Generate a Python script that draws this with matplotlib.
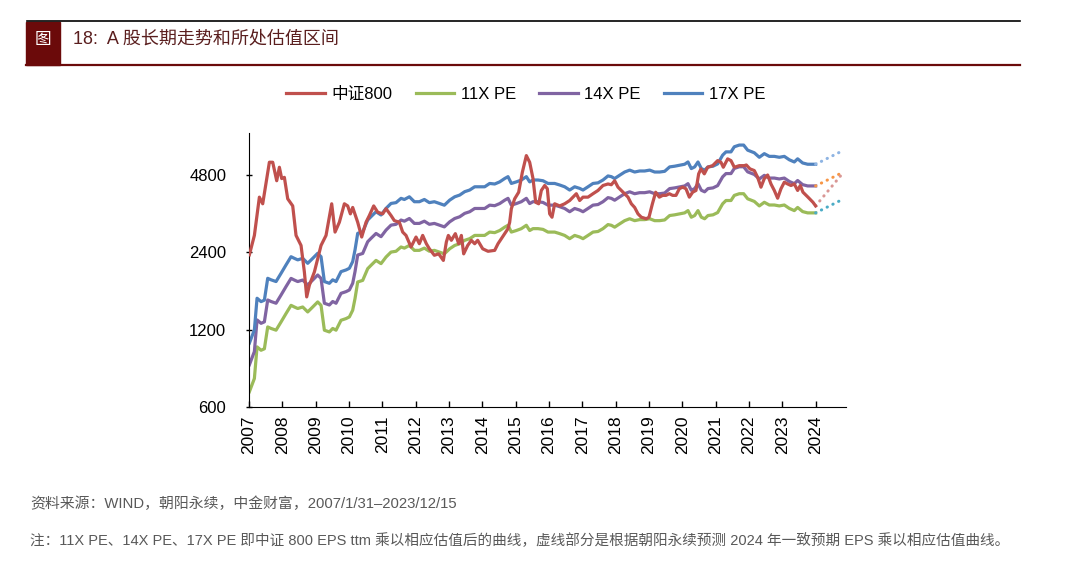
import numpy as np
import matplotlib
matplotlib.use('Agg')
import matplotlib.pyplot as plt
from matplotlib.patches import Rectangle
from matplotlib.lines import Line2D

plt.rcParams['font.family'] = ['Liberation Sans', 'Noto Sans CJK SC', 'DejaVu Sans']

# 中证800 (decimal year -> index level)
csi800_year = [2007.01, 2007.16, 2007.31, 2007.41, 2007.61, 2007.71, 2007.83, 2007.91, 2007.98,
               2008.06, 2008.16, 2008.31, 2008.41, 2008.56, 2008.66, 2008.73, 2008.81, 2008.96,
               2009.16, 2009.31, 2009.48, 2009.58, 2009.71, 2009.86, 2009.96,
               2010.04, 2010.11, 2010.26, 2010.38, 2010.51, 2010.61, 2010.74, 2010.86,
               2011.01, 2011.11, 2011.26, 2011.36, 2011.51, 2011.61, 2011.71, 2011.86,
               2012.01, 2012.11, 2012.21, 2012.32, 2012.41, 2012.56, 2012.69, 2012.83, 2012.92, 2012.98,
               2013.07, 2013.19, 2013.29, 2013.37, 2013.44, 2013.56, 2013.67, 2013.77, 2013.86,
               2014.01, 2014.17, 2014.37, 2014.47, 2014.57, 2014.67, 2014.77, 2014.82, 2014.87, 2014.97,
               2015.09, 2015.20, 2015.32, 2015.42, 2015.52, 2015.60, 2015.69, 2015.77, 2015.87, 2015.95,
               2016.02, 2016.09, 2016.17, 2016.32, 2016.47, 2016.62, 2016.72, 2016.82, 2016.92,
               2017.02, 2017.17, 2017.32, 2017.47, 2017.62, 2017.77, 2017.87, 2017.97,
               2018.07, 2018.22, 2018.37, 2018.47, 2018.57, 2018.67, 2018.77, 2018.92,
               2019.00, 2019.10, 2019.20, 2019.31, 2019.41, 2019.51, 2019.61, 2019.71, 2019.81, 2019.91,
               2020.01, 2020.11, 2020.21, 2020.31, 2020.41, 2020.49, 2020.56, 2020.66, 2020.76, 2020.91,
               2021.06, 2021.16, 2021.23, 2021.36, 2021.46, 2021.56, 2021.71, 2021.86, 2021.92,
               2022.03, 2022.16, 2022.26, 2022.36, 2022.46, 2022.56, 2022.66, 2022.76, 2022.86, 2022.96,
               2023.06, 2023.16, 2023.26, 2023.36, 2023.46, 2023.54, 2023.62, 2023.77, 2023.92, 2024.00]
csi800_val = [2350, 2795, 3937, 3710, 5382, 5380, 4560, 5145, 4650,
              4700, 3880, 3640, 2795, 2555, 2015, 1612, 1790, 2015,
              2555, 2795, 3710, 2880, 3145, 3710, 3640,
              3390, 3590, 3145, 2755, 3145, 3340, 3640, 3440,
              3390, 3550, 3340, 3190, 3145, 2880, 2795, 2520,
              2755, 2595, 2795, 2595, 2480, 2340, 2370, 2235, 2635, 2795,
              2675, 2840, 2595, 2795, 2370, 2555, 2675, 2595, 2675,
              2480, 2425, 2445, 2595, 2715, 2840, 2970, 3145, 3550, 3880,
              4115, 4920, 5710, 5380, 4650, 3760, 3710, 4180, 4370, 4245,
              3390, 3290, 3710, 3640, 3710, 3820, 3937, 4060, 3820,
              3937, 3937, 4060, 4180, 4370, 4430, 4400, 4560,
              4305, 4115, 3937, 3710, 3590, 3390, 3290, 3245,
              3290, 3700, 4115, 3937, 4000, 4000, 4060, 4000, 4000, 4245,
              4305, 4245, 3937, 4115, 4180, 4850, 5070, 4850, 5145, 5220,
              5460, 5380, 5145, 5545, 5460, 5145, 5220, 5220, 5250,
              5070, 4995, 4700, 4305, 4650, 4800, 4430, 4180, 3900, 4245,
              4500, 4430, 4370, 4430, 4180, 4370, 4115, 3937, 3760, 3640]

# 中证800 EPS ttm
eps_year = [2007.01, 2007.16, 2007.24, 2007.36, 2007.46, 2007.56, 2007.66, 2007.81, 2007.96,
            2008.11, 2008.26, 2008.36, 2008.46, 2008.61, 2008.76, 2008.91,
            2009.06, 2009.16, 2009.26, 2009.41, 2009.51, 2009.61, 2009.76, 2009.91,
            2010.01, 2010.11, 2010.18, 2010.26, 2010.41, 2010.56, 2010.66, 2010.81, 2010.96,
            2011.11, 2011.26, 2011.41, 2011.56, 2011.66, 2011.81, 2011.96,
            2012.11, 2012.26, 2012.41, 2012.56, 2012.71, 2012.86,
            2013.02, 2013.17, 2013.32, 2013.47, 2013.62, 2013.77, 2013.92,
            2014.07, 2014.22, 2014.37, 2014.52, 2014.67, 2014.77, 2014.87,
            2015.02, 2015.17, 2015.32, 2015.42, 2015.52, 2015.67, 2015.82, 2015.97,
            2016.17, 2016.32, 2016.47, 2016.62, 2016.77, 2016.92,
            2017.02, 2017.17, 2017.32, 2017.47, 2017.62, 2017.77, 2017.87, 2017.97,
            2018.12, 2018.27, 2018.42, 2018.57, 2018.72, 2018.87,
            2019.02, 2019.17, 2019.32, 2019.47, 2019.62, 2019.77, 2019.92,
            2020.07, 2020.17, 2020.27, 2020.37, 2020.47, 2020.57, 2020.67, 2020.77, 2020.92,
            2021.06, 2021.21, 2021.31, 2021.46, 2021.56, 2021.71, 2021.84, 2021.96,
            2022.16, 2022.31, 2022.46, 2022.61, 2022.76, 2022.91,
            2023.06, 2023.21, 2023.36, 2023.46, 2023.61, 2023.76, 2024.00]
eps_val = [62.7, 70.6, 93.7, 90.9, 92.1, 112.0, 110.5, 108.8, 117.1,
           126.3, 135.9, 133.9, 132.1, 133.9, 128.1, 133.9,
           140.1, 135.9, 108.8, 107.1, 110.5, 108.8, 118.9, 120.7,
           122.5, 130.1, 144.5, 167.5, 169.9, 188.7, 194.5, 203.2, 197.4,
           209.4, 218.9, 220.5, 229.1, 226.8, 232.3, 222.3,
           222.3, 226.8, 220.5, 222.3, 218.9, 215.5,
           225.5, 232.3, 235.9, 243.2, 246.8, 254.1, 254.1,
           254.1, 261.8, 260.5, 265.5, 273.6, 278.2, 261.8,
           265.5, 270.0, 278.2, 265.5, 270.0, 270.0, 268.2, 261.8,
           261.8, 258.2, 254.1, 246.8, 254.1, 250.5,
           246.8, 254.1, 261.8, 263.2, 270.0, 280.0, 278.2, 273.6,
           281.8, 290.0, 295.0, 290.0, 292.7, 292.7,
           295.0, 290.0, 290.0, 291.8, 303.6, 305.5, 308.2,
           310.9, 317.3, 299.1, 303.6, 317.3, 299.1, 295.0, 303.6, 305.5,
           311.8, 337.3, 347.3, 347.3, 363.6, 369.1, 369.1, 352.7,
           344.5, 330.9, 341.8, 333.6, 333.6, 330.9,
           333.6, 323.6, 317.3, 326.4, 314.5, 310.9, 310.9]

# 2024 一致预期 EPS (dotted part)
eps_2024 = 353.0
year_2024 = 2024.85

pe_multiples = [11, 14, 17]
pe_labels = ['11X PE', '14X PE', '17X PE']
pe_colors = ['#9BBB59', '#8064A2', '#4F81BD']
dot_colors = ['#4BACC6', '#F79646', '#8EB4E3']
year_ticks = list(range(2007, 2025))
y_ticks = [600, 1200, 2400, 4800]

fig = plt.figure(figsize=(10.8, 5.72), dpi=100)

# header
fig.add_artist(Line2D([0.025, 0.944], [0.9633, 0.9633], color='black', lw=1.2))
fig.add_artist(Rectangle((0.0241, 0.8864), 0.0315, 0.0752, color='#6B0A0A'))
fig.add_artist(Line2D([0.0241, 0.944], [0.8864, 0.8864], color='#6B0A0A', lw=1.6))
fig.text(0.0398, 0.9318, '图', color='white', fontsize=12, ha='center', va='center')
fig.text(0.0676, 0.9318, '18:  A 股长期走势和所处估值区间', color='#5A1E1E', fontsize=13, va='center')

ax = fig.add_axes([0.2306, 0.2879, 0.5527, 0.479])
lw = 2.3
ax.plot(csi800_year, csi800_val, color='#C0504D', lw=lw, label='中证800', zorder=5)
eps = np.array(eps_val)
for m, lab, c in zip(pe_multiples, pe_labels, pe_colors):
    ax.plot(eps_year, eps * m, color=c, lw=lw, label=lab)

# dotted forecast lines
for m, c in zip(pe_multiples, dot_colors):
    ax.plot([eps_year[-1], year_2024], [eps[-1] * m, eps_2024 * m], color=c, lw=2.2,
            linestyle=(0, (0.1, 2.0)), dash_capstyle='round')
ax.plot([csi800_year[-1], year_2024], [csi800_val[-1], eps_2024 * 14], color='#D99694', lw=2.2,
        linestyle=(0, (0.1, 2.0)), dash_capstyle='round')

ax.set_yscale('log', base=2)
ax.set_ylim(600, 6970)
ax.set_xlim(2007, 2024.91)
ax.set_yticks(y_ticks)
ax.set_yticklabels([str(v) for v in y_ticks])
ax.yaxis.set_minor_locator(matplotlib.ticker.NullLocator())
ax.set_xticks(year_ticks)
ax.set_xticklabels([str(v) for v in year_ticks], rotation=90)
ax.tick_params(axis='x', direction='in', length=4, width=1, labelsize=12.5, pad=6)
ax.tick_params(axis='y', direction='inout', length=5, width=1, labelsize=12, pad=14)
ax.spines['top'].set_visible(False)
ax.spines['right'].set_visible(False)

fig.legend(loc='center', bbox_to_anchor=(0.487, 0.8357), ncol=4, frameon=False, fontsize=12,
           handlelength=2.3, columnspacing=1.4, handletextpad=0.4)

fig.text(0.0278, 0.1189, '资料来源：WIND，朝阳永续，中金财富，2007/1/31–2023/12/15', color='#595959',
         fontsize=10.7, va='center')
fig.text(0.0278, 0.0542, '注：11X PE、14X PE、17X PE 即中证 800 EPS ttm 乘以相应估值后的曲线，虚线部分是根据朝阳永续预测 2024 年一致预期 EPS 乘以相应估值曲线。',
         color='#595959', fontsize=10.5, va='center')

plt.savefig('out.png', dpi=100)
